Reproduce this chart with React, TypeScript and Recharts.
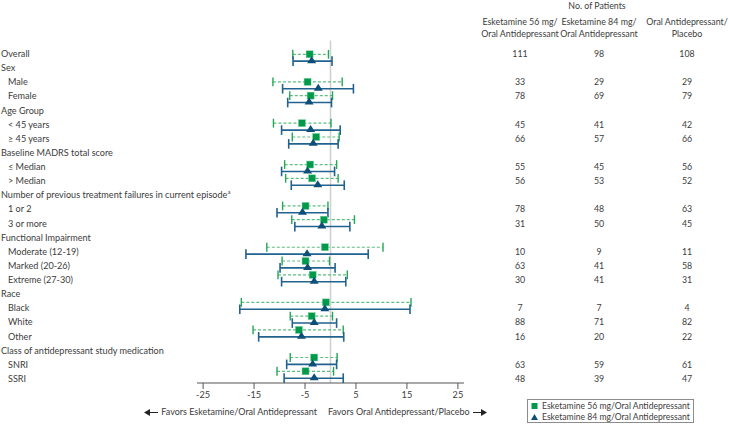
import { ScatterChart, Scatter, XAxis, YAxis, ReferenceLine } from 'recharts'

const rowLabels = [
  'Overall', 'Sex', 'Male', 'Female', 'Age Group', '< 45 years', '≥ 45 years',
  'Baseline MADRS total score', '≤ Median', '> Median',
  'Number of previous treatment failures in current episode', '1 or 2', '3 or more',
  'Functional Impairment', 'Moderate (12-19)', 'Marked (20-26)', 'Extreme (27-30)',
  'Race', 'Black', 'White', 'Other',
  'Class of antidepressant study medication', 'SNRI', 'SSRI',
]
const rowIndent = [0, 0, 1, 1, 0, 1, 1, 0, 1, 1, 0, 1, 1, 0, 1, 1, 1, 0, 1, 1, 1, 0, 1, 1]
const footnoteRow = 10

// patient counts per row (null = group header)
const n56 = [111, null, 33, 78, null, 45, 66, null, 55, 56, null, 78, 31, null, 10, 63, 30, null, 7, 88, 16, null, 63, 48]
const n84 = [98, null, 29, 69, null, 41, 57, null, 45, 53, null, 48, 50, null, 9, 41, 41, null, 7, 71, 20, null, 59, 39]
const nPlacebo = [108, null, 29, 79, null, 42, 66, null, 56, 52, null, 63, 45, null, 11, 58, 31, null, 4, 82, 22, null, 61, 47]

// Esketamine 56 mg: difference and 95% CI
const mid56 = [-4.1, null, -4.5, -3.9, null, -5.6, -2.8, null, -4.0, -3.6, null, -4.9, -1.3, null, -1.1, -4.9, -3.5, null, -0.9, -3.7, -6.2, null, -3.2, -4.9]
const lo56 = [-7.4, null, -11.3, -8.0, null, -11.2, -7.5, null, -9.0, -8.8, null, -9.4, -7.6, null, -12.5, -9.5, -10.3, null, -17.5, -7.9, -15.2, null, -7.9, -10.5]
const hi56 = [-0.4, null, 2.3, 0.4, null, 0.1, 1.7, null, 1.2, 1.5, null, -0.5, 4.7, null, 10.3, -0.2, 3.3, null, 15.8, 0.4, 2.5, null, 1.3, 0.6]

// Esketamine 84 mg
const mid84 = [-3.7, null, -2.4, -4.2, null, -3.9, -3.4, null, -4.5, -2.5, null, -5.5, -1.7, null, -4.6, -4.5, -3.2, null, -1.1, -3.2, -5.7, null, -3.5, -3.2]
const lo84 = [-7.35, null, -9.4, -8.4, null, -9.6, -8.2, null, -9.6, -7.7, null, -10.5, -7.0, null, -16.6, -9.9, -9.6, null, -17.8, -7.5, -14.1, null, -8.6, -9.1]
const hi84 = [0.3, null, 4.5, 0.2, null, 1.9, 1.5, null, 0.8, 2.7, null, -0.5, 3.8, null, 7.4, 0.9, 3.0, null, 15.6, 1.2, 2.6, null, 1.2, 2.5]

const xTicks = [-25, -15, -5, 5, 15, 25]

const seriesNames = ['Esketamine 56 mg/Oral Antidepressant', 'Esketamine 84 mg/Oral Antidepressant']

const colHeaders = [
  ['Esketamine 56 mg/', 'Oral Antidepressant'],
  ['Esketamine 84 mg/', 'Oral Antidepressant'],
  ['Oral Antidepressant/', 'Placebo'],
]
const colCenters = [520, 599, 687]
const nColumns = [n56, n84, nPlacebo]

const GREEN = '#009a4a'
const GREEN_LINE = '#5cbf7e'
const GREEN_CAP = '#23a655'
const BLUE = '#0e4f7a'
const BLUE_LINE = '#22628e'
const TEXT = '#3c3c3c'
const FONT = 'Lato, sans-serif'

const ROW0 = 53
const ROW_STEP = 14.13

const rows = mid56.map((v, i) => (v == null ? -1 : i)).filter((i) => i >= 0)
const pts56 = rows.map((r) => ({ x: mid56[r], y: r }))
const pts84 = rows.map((r) => ({ x: mid84[r], y: r + 0.5 }))

const SquareDot = (p: any) => (
  <rect x={p.cx - 3.5} y={p.cy - 3.5} width={7} height={7} fill={GREEN} stroke="#7fd0a0" strokeWidth={0.5} />
)
const TriangleDot = (p: any) => (
  <polygon points={`${p.cx - 4.5},${p.cy + 2} ${p.cx + 4.5},${p.cy + 2} ${p.cx},${p.cy - 5}`} fill={BLUE} />
)

function Arrow({ dir }: { dir: 'left' | 'right' }) {
  return (
    <svg width={15} height={8} style={{ verticalAlign: 'middle' }}>
      {dir === 'left' ? (
        <>
          <polygon points="0,4 6,0.5 6,7.5" fill="#222" />
          <line x1={5} y1={4} x2={14} y2={4} stroke="#222" strokeWidth={1} />
        </>
      ) : (
        <>
          <line x1={1} y1={4} x2={10} y2={4} stroke="#222" strokeWidth={1} />
          <polygon points="15,4 9,0.5 9,7.5" fill="#222" />
        </>
      )}
    </svg>
  )
}

export default function App() {
  const bars = rows.map((r) => {
    const b = r + 0.5
    return [
      <ReferenceLine key={`g${r}`} segment={[{ x: lo56[r], y: r }, { x: hi56[r], y: r }]} stroke={GREEN_LINE} strokeWidth={1.2} strokeDasharray="3 2" />,
      <ReferenceLine key={`gl${r}`} segment={[{ x: lo56[r], y: r - 0.32 }, { x: lo56[r], y: r + 0.32 }]} stroke={GREEN_CAP} strokeWidth={1.4} />,
      <ReferenceLine key={`gh${r}`} segment={[{ x: hi56[r], y: r - 0.32 }, { x: hi56[r], y: r + 0.32 }]} stroke={GREEN_CAP} strokeWidth={1.4} />,
      <ReferenceLine key={`b${r}`} segment={[{ x: lo84[r], y: b }, { x: hi84[r], y: b }]} stroke={BLUE_LINE} strokeWidth={1.6} />,
      <ReferenceLine key={`bl${r}`} segment={[{ x: lo84[r], y: b - 0.35 }, { x: lo84[r], y: b + 0.35 }]} stroke={BLUE_LINE} strokeWidth={1.6} />,
      <ReferenceLine key={`bh${r}`} segment={[{ x: hi84[r], y: b - 0.35 }, { x: hi84[r], y: b + 0.35 }]} stroke={BLUE_LINE} strokeWidth={1.6} />,
    ]
  })

  return (
    <div style={{ position: 'relative', width: 729, height: 424, fontFamily: FONT, color: TEXT, background: '#fff' }}>
      <style>{'body{margin:0}'}</style>
      <ScatterChart width={729} height={424} margin={{ top: 40.5, right: 265, bottom: 11, left: 197 }}>
        <XAxis
          type="number"
          dataKey="x"
          domain={[-26.2, 26.2]}
          ticks={xTicks}
          interval={0}
          height={30}
          stroke="#555"
          tickSize={6}
          tick={{ fill: TEXT, fontSize: 9.2, fontFamily: FONT }}
        />
        <YAxis type="number" dataKey="y" domain={[-1, 23.85]} reversed hide />
        <ReferenceLine x={0} stroke="#cfcfcf" strokeWidth={1.5} />
        {bars}
        <Scatter name={seriesNames[0]} data={pts56} fill={GREEN} shape={SquareDot} isAnimationActive={false} />
        <Scatter name={seriesNames[1]} data={pts84} fill={BLUE} shape={TriangleDot} isAnimationActive={false} />
      </ScatterChart>

      {rowLabels.map((label, i) => (
        <div
          key={label}
          style={{
            position: 'absolute',
            left: rowIndent[i] ? 8 : 1,
            top: ROW0 + ROW_STEP * i,
            transform: 'translateY(-50%)',
            fontSize: 9.1,
            whiteSpace: 'nowrap',
          }}
        >
          {label}
          {i === footnoteRow && <sup style={{ fontSize: 6 }}>a</sup>}
        </div>
      ))}

      <div style={{ position: 'absolute', left: 547, width: 100, top: 5, transform: 'translateY(-50%)', textAlign: 'center', fontSize: 8.8 }}>
        No. of Patients
      </div>
      {colHeaders.map((lines, c) => (
        <div
          key={c}
          style={{
            position: 'absolute',
            left: colCenters[c] - 50,
            width: 100,
            top: 15.5,
            textAlign: 'center',
            fontSize: 8.9,
            lineHeight: '12.6px',
            whiteSpace: 'nowrap',
          }}
        >
          {lines.map((l) => (
            <div key={l}>{l}</div>
          ))}
        </div>
      ))}
      {nColumns.map((col, c) =>
        col.map((n, i) =>
          n == null ? null : (
            <div
              key={`${c}-${i}`}
              style={{
                position: 'absolute',
                left: colCenters[c] - 20,
                width: 40,
                top: ROW0 + ROW_STEP * i,
                transform: 'translateY(-50%)',
                textAlign: 'center',
                fontSize: 8.8,
              }}
            >
              {n}
            </div>
          )
        )
      )}

      <div style={{ position: 'absolute', left: 144, top: 411, transform: 'translateY(-50%)', fontSize: 9, whiteSpace: 'nowrap' }}>
        <Arrow dir="left" /> Favors Esketamine/Oral Antidepressant
      </div>
      <div style={{ position: 'absolute', left: 328, top: 411, transform: 'translateY(-50%)', fontSize: 9, whiteSpace: 'nowrap' }}>
        Favors Oral Antidepressant/Placebo <Arrow dir="right" />
      </div>

      <div
        style={{
          position: 'absolute',
          left: 527,
          top: 399,
          width: 167,
          height: 24,
          boxSizing: 'border-box',
          border: '1px solid #8c8c8c',
          padding: '1px 0 0 3px',
          fontSize: 8.6,
          lineHeight: '10.5px',
          whiteSpace: 'nowrap',
        }}
      >
        {seriesNames.map((name, k) => (
          <div key={name} style={{ display: 'flex', alignItems: 'center' }}>
            <svg width={11} height={8} style={{ flex: 'none' }}>
              {k === 0 ? (
                <rect x={0.5} y={1} width={6} height={6} fill={GREEN} />
              ) : (
                <polygon points="0,7 7,7 3.5,1" fill={BLUE} />
              )}
            </svg>
            <span>{name}</span>
          </div>
        ))}
      </div>
    </div>
  )
}
